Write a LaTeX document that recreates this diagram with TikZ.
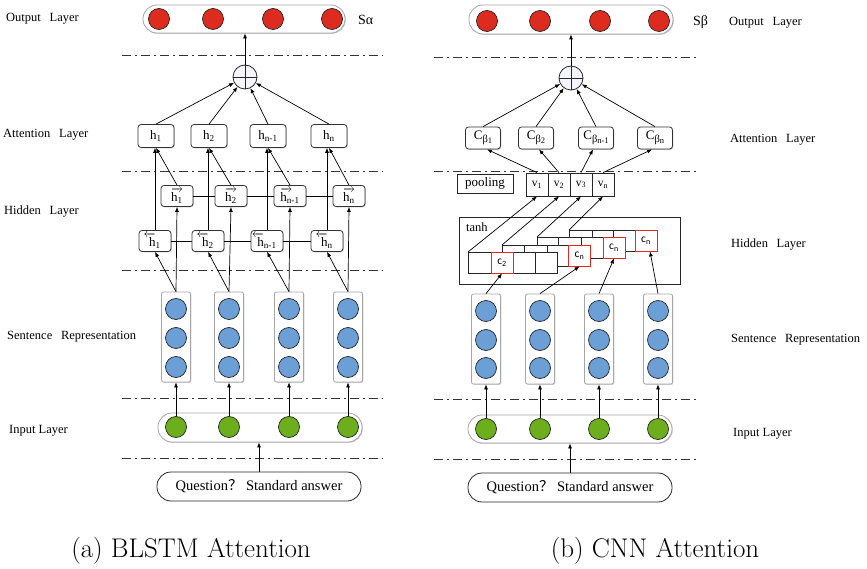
\documentclass[tikz,border=0pt]{standalone}
\usepackage{fontspec}
\usepackage{amsmath}
\usetikzlibrary{arrows.meta,calc,shadows}
\newfontfamily\tms{Liberation Serif}
\newfontfamily\cjk{Noto Sans CJK SC}
\newfontfamily\carl{Carlito}
\definecolor{cred}{HTML}{DD2C1F}
\definecolor{cblue}{HTML}{6B9FD6}
\definecolor{cgreen}{HTML}{6CAE1B}
\newcommand\hh[1]{h\textsubscript{#1}}
\newcommand\hfw[1]{\rlap{$\overrightarrow{\phantom{\hbox{h}}}$}h\textsubscript{#1}}
\newcommand\hbw[1]{h\llap{$\overleftarrow{\phantom{\hbox{h}}}$}\textsubscript{#1}}
\newcommand\cbt[1]{C\raisebox{-2.5pt}{\fontsize{10.5}{11}\selectfont β\raisebox{-1pt}{\fontsize{8.5}{9}\selectfont #1}}}
\newcommand\gp{\hspace{0.7em}}
\begin{document}
\begin{tikzpicture}[x=1pt,y=-1pt,
  lbl/.style={font=\tms\fontsize{12.5}{14}\selectfont, anchor=west, inner sep=0},
  arr/.style={-{Latex[length=5pt,width=4pt]}, line width=0.7pt},
  ln/.style={line width=0.7pt},
  dd/.style={line width=0.8pt, dash pattern=on 9pt off 4pt on 2pt off 4pt, draw=black!80},
  shd/.style={drop shadow={shadow xshift=0.8pt, shadow yshift=-0.8pt, fill=black!40, opacity=0.5}},
  caps/.style={draw=black!35, line width=0.8pt, rounded corners=14pt, fill=white, inner sep=0, shd},
  colb/.style={draw=black!35, line width=0.8pt, rounded corners=2pt, fill=white, minimum width=29, minimum height=90, inner sep=0, shd},
  dot/.style={circle, draw=black!85, line width=0.7pt, minimum size=21, inner sep=0},
  rd/.style={dot, fill=cred}, bl/.style={dot, fill=cblue}, gr/.style={dot, fill=cgreen},
  rbox/.style={draw=black!80, line width=0.8pt, rounded corners=3pt, fill=white, inner sep=0, font=\tms\fontsize{13}{15}\selectfont, shd},
  hA/.style={rbox, minimum width=36, minimum height=23},
  hs/.style={rbox, minimum width=32, minimum height=21},
  opl/.style={circle, draw=black!85, line width=0.8pt, fill=blue!4, minimum size=24, inner sep=0,
     path picture={\draw[line width=0.8pt] (path picture bounding box.north) -- (path picture bounding box.south)
       (path picture bounding box.west) -- (path picture bounding box.east);}},
  vc/.style={draw=black!85, line width=0.8pt, fill=white, minimum width=22, minimum height=23, inner sep=0, font=\tms\fontsize{11.5}{13}\selectfont},
  cell/.style={draw=black!85, line width=0.8pt, fill=white},
  cbox/.style={draw=cred, line width=0.8pt, fill=white, minimum width=22, minimum height=21, inner sep=0, font=\carl\fontsize{11.5}{13}\selectfont},
  qbox/.style={draw=black!85, line width=0.8pt, rounded corners=14pt, fill=white, minimum width=204, minimum height=29, inner sep=0, font=\tms\fontsize{14.5}{16}\selectfont},
  captxt/.style={font=\fontsize{27}{30}\selectfont}
]
\useasboundingbox (0,0) rectangle (867,569);

% ================= LEFT: BLSTM =================
\foreach \yy in {55,171,270,398,458} \draw[dd] (122,\yy) -- (383,\yy);

\node[lbl] at (6,19) {Output\gp Layer};
\node[lbl] at (3,135) {Attention\gp Layer};
\node[lbl] at (4,212) {Hidden\gp Layer};
\node[lbl] at (7,337) {Sentence\gp Representation};
\node[lbl] at (9,431) {Input Layer};

\node[caps, minimum width=202, minimum height=28] (outL) at (244,19) {};
\node[rd] at (159,19) {};
\node[rd] at (213,19) {};
\node[rd] at (273,19) {};
\node[rd] at (332,19) {};
\node[lbl, font=\tms\fontsize{14}{16}\selectfont] at (358,20) {Sα};

\node[opl] (pL) at (245,77) {};

\node[hA] (a1) at (156,136) {\hh{1}};
\node[hA] (a2) at (209,136) {\hh{2}};
\node[hA] (a3) at (268,136) {\hh{n-1}};
\node[hA] (a4) at (329,136) {\hh{n}};

\node[hs] (f1) at (177,196) {\hfw{1}};
\node[hs] (f2) at (231,196) {\hfw{2}};
\node[hs] (f3) at (290,196) {\hfw{n-1}};
\node[hs] (f4) at (349,196) {\hfw{n}};

\node[hs] (b1) at (155,241) {\hbw{1}};
\node[hs] (b2) at (208,241) {\hbw{2}};
\node[hs] (b3) at (267,241) {\hbw{n-1}};
\node[hs] (b4) at (327,241) {\hbw{n}};

\foreach \i/\x in {1/176,2/229,3/289,4/348} {
  \node[colb] (s\i) at (\x,337) {};
  \node[bl] at (\x,309) {};
  \node[bl] at (\x,338) {};
  \node[bl] at (\x,367) {};
}
\node[caps, minimum width=204, minimum height=29] (inL) at (260,427.5) {};
\foreach \i/\x in {1/176,2/229,3/289,4/348} \node[gr] (g\i) at (\x,427) {};
\node[qbox] (qL) at (259,486.5) {Question{\cjk ？} Standard answer};

% connectors left
\draw[arr] (pL) -- (outL.south -| pL);
\foreach \i in {1,2,3,4} {
  \draw[arr] (a\i.north) -- (pL);
  \draw[arr] (b\i.north) -- (b\i.north |- a\i.south);
  \draw[arr] (f\i.north) -- (a\i.south);
  \draw[arr] (s\i.north) -- (f\i.south);
  \draw[arr] (s\i.north) -- (b\i.south);
  \draw[arr] (g\i.north) -- (g\i.north |- s\i.south);
}
\draw[ln] (f1) -- (f2) (f2) -- (f3) (f3) -- (f4);
\draw[ln] (b1) -- (b2) (b2) -- (b3) (b3) -- (b4);
\draw[arr] (qL.north) -- (qL.north |- inL.south);

% ================= RIGHT: CNN =================
\foreach \yy in {57,171,399,459} \draw[dd] (434,\yy) -- (697,\yy);

\node[lbl] at (729,23) {Output\gp Layer};
\node[lbl] at (730,140) {Attention\gp Layer};
\node[lbl] at (731,245) {Hidden\gp Layer};
\node[lbl] at (731,340) {Sentence\gp Representation};
\node[lbl] at (733,434) {Input Layer};

\node[caps, minimum width=204, minimum height=29] (outR) at (571,19.5) {};
\node[rd] at (487,21) {};
\node[rd] at (540,21) {};
\node[rd] at (600,21) {};
\node[rd] at (659,21) {};
\node[lbl, font=\tms\fontsize{14}{16}\selectfont] at (693,22) {Sβ};

\node[opl] (pR) at (571,78) {};

\node[hA, minimum width=35, minimum height=22] (cb1) at (483,138) {\cbt{1}};
\node[hA, minimum width=35, minimum height=22] (cb2) at (536,138) {\cbt{2}};
\node[hA, minimum width=35, minimum height=22] (cb3) at (596,138) {\cbt{n-1}};
\node[hA, minimum width=35, minimum height=22] (cb4) at (655,138) {\cbt{n}};

\node[draw=black!85, line width=0.8pt, minimum width=56, minimum height=19, inner sep=0, font=\tms\fontsize{13}{14}\selectfont] (pool) at (485,183.5) {pooling};
\node[vc] (v1) at (537,184.5) {v\textsubscript{1}};
\node[vc] (v2) at (559,184.5) {v\textsubscript{2}};
\node[vc] (v3) at (581,184.5) {v\textsubscript{3}};
\node[vc] (v4) at (603,184.5) {v\textsubscript{n}};

% tanh box with stacked feature maps
\draw[line width=0.8pt, draw=black!85] (459,217) rectangle (680,284);
\node[lbl] at (466,227) {tanh};
% row 4
\draw[cell] (569,230) rectangle (592,251) (592,230) rectangle (613,251) (613,230) rectangle (635,251);
\node[cbox] (cn4) at (646,240.5) {c\textsubscript{n}};
% row 3
\draw[cell] (537,237) rectangle (558,258) (558,237) rectangle (581,258) (581,237) rectangle (603,258);
\node[cbox] (cn3) at (614,247.5) {c\textsubscript{n}};
% row 2
\draw[cell] (502,245) rectangle (524,266) (524,245) rectangle (547,266) (547,245) rectangle (568,266);
\node[cbox] (cn2) at (579.5,255.5) {c\textsubscript{n}};
% row 1
\draw[cell] (468,252) rectangle (491,273) (513,252) rectangle (535,273) (535,252) rectangle (557,273);
\node[cbox] (c2) at (502,262.5) {c\textsubscript{2}};
\coordinate (r1) at (468,252);
\coordinate (r2) at (502,245);
\coordinate (r3) at (537,237);
\coordinate (r4) at (569,230);

\foreach \i/\x in {1/486,2/540,3/599,4/658} {
  \node[colb] (t\i) at (\x,339) {};
  \node[bl] at (\x,311) {};
  \node[bl] at (\x,340) {};
  \node[bl] at (\x,368) {};
}
\node[caps, minimum width=204, minimum height=28] (inR) at (570,429) {};
\foreach \i/\x in {1/486,2/540,3/599,4/658} \node[gr] (k\i) at (\x,429) {};
\node[qbox] (qR) at (570,487.5) {Question{\cjk ？} Standard answer};

% connectors right
\draw[arr] (pR) -- (outR.south -| pR);
\foreach \i in {1,2,3,4} {
  \draw[arr] (cb\i.north) -- (pR);
  \draw[arr] (r\i) -- (v\i.south);
  \draw[arr] (k\i.north) -- (k\i.north |- t\i.south);
}
\draw[arr] (v1.north) -- ($(cb1.south)+(4,0)$);
\draw[arr] (v2.north) -- ($(cb2.south)+(3,0)$);
\draw[arr] (v3.north) -- ($(cb3.south)+(-3,0)$);
\draw[arr] (v4.north) -- ($(cb4.south)+(-3,0)$);
\draw[arr] (t1.north) -- (c2.south);
\draw[arr] (t2.north) -- (cn2.south);
\draw[arr] (t3.north) -- (cn3.south);
\draw[arr] (t4.north) -- ($(cn4.south)+(4,0)$);
\draw[arr] (qR.north) -- (qR.north |- inR.south);

% captions
\node[captxt] at (191,551) {(a) BLSTM Attention};
\node[captxt] at (655,551) {(b) CNN Attention};
\end{tikzpicture}
\end{document}
